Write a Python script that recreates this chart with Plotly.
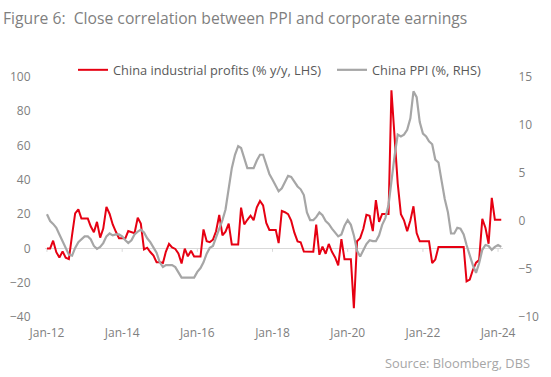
import pandas as pd
import plotly.graph_objects as go

# ---- data (monthly, Jan-2012 .. Feb-2024) ----
start_month = "2012-01-01"
n_months = 146

profits = [
    # 2012
    0.0, 0.0, 4.5, -2.2, -5.3, -1.7, -5.4, -6.2, 7.8, 20.5, 22.8, 17.4,
    # 2013
    17.4, 17.4, 12.9, 9.4, 15.5, 6.3, 11.6, 24.2, 20.1, 14.0, 9.7, 6.0,
    # 2014
    6.0, 6.0, 10.1, 9.6, 8.9, 17.9, 14.5, -0.6, 0.4, -2.1, -4.2, -8.0,
    # 2015
    -8.0, -8.5, -2.0, 2.6, 0.6, -0.3, -2.9, -8.8, -0.1, -4.6, -1.4, -4.7,
    # 2016
    -4.7, -4.7, 11.1, 4.2, 3.7, 5.1, 10.0, 19.5, 7.7, 9.8, 14.5, 2.3,
    # 2017
    2.3, 2.3, 23.8, 14.0, 16.7, 19.1, 16.5, 24.0, 27.7, 25.1, 14.9, 10.8,
    # 2018
    10.8, 10.8, 3.1, 21.9, 21.1, 20.0, 16.2, 9.2, 4.1, 3.6, -1.8, -1.9,
    # 2019
    -1.9, -1.9, 13.9, -3.7, 1.1, -3.1, 2.6, -2.0, -5.3, -9.9, 5.4, -6.3,
    # 2020
    -6.3, -6.3, -34.9, 4.2, 6.0, 11.5, 19.6, 19.1, 10.1, 28.2, 15.5, 20.1,
    # 2021
    20.1, 20.1, 92.3, 62.0, 38.0, 20.0, 16.4, 10.1, 16.3, 24.6, 9.0, 4.2,
    # 2022
    4.2, 4.2, 4.2, -8.5, -6.5, 0.8, 0.8, 0.8, 0.8, 0.8, 0.8, 0.8,
    # 2023
    0.8, 0.8, -19.2, -18.2, -12.6, -8.3, -6.7, 17.2, 11.9, 2.7, 29.5, 16.8,
    # 2024
    16.8, 16.8,
]

ppi = [
    # 2012
    0.7, 0.0, -0.3, -0.7, -1.4, -2.1, -2.9, -3.5, -3.6, -2.8, -2.2, -1.9,
    # 2013
    -1.6, -1.6, -1.9, -2.6, -2.9, -2.7, -2.3, -1.6, -1.3, -1.5, -1.4, -1.4,
    # 2014
    -1.6, -2.0, -2.3, -2.0, -1.4, -1.1, -0.9, -1.2, -1.8, -2.2, -2.7, -3.3,
    # 2015
    -4.3, -4.8, -4.6, -4.6, -4.6, -4.8, -5.4, -5.9, -5.9, -5.9, -5.9, -5.9,
    # 2016
    -5.3, -4.9, -4.3, -3.4, -2.8, -2.6, -1.7, -0.8, 0.1, 1.2, 3.3, 5.5,
    # 2017
    6.9, 7.8, 7.6, 6.4, 5.5, 5.5, 5.5, 6.3, 6.9, 6.9, 5.8, 4.9,
    # 2018
    4.3, 3.7, 3.1, 3.4, 4.1, 4.7, 4.6, 4.1, 3.6, 3.3, 2.7, 0.9,
    # 2019
    0.1, 0.1, 0.4, 0.9, 0.6, 0.0, -0.3, -0.8, -1.2, -1.6, -1.4, -0.5,
    # 2020
    0.1, -0.4, -1.5, -3.1, -3.7, -3.0, -2.4, -2.0, -2.1, -2.1, -1.5, -0.4,
    # 2021
    0.3, 1.7, 4.4, 6.8, 9.0, 8.8, 9.0, 9.5, 10.7, 13.5, 12.9, 10.3,
    # 2022
    9.1, 8.8, 8.3, 8.0, 6.4, 6.1, 4.2, 2.3, 0.9, -1.3, -1.3, -0.7,
    # 2023
    -0.8, -1.4, -2.5, -3.6, -4.6, -5.4, -4.4, -3.0, -2.5, -2.6, -3.0, -2.7,
    # 2024
    -2.5, -2.7,
]

tick_dates = ["2012-01-01", "2014-01-01", "2016-01-01", "2018-01-01",
              "2020-01-01", "2022-01-01", "2024-01-01"]
tick_labels = ["Jan-12", "Jan-14", "Jan-16", "Jan-18", "Jan-20", "Jan-22", "Jan-24"]
left_ticks = [-40, -20, 0, 20, 40, 60, 80, 100]
right_ticks = [-10, -5, 0, 5, 10, 15]

name_profits = "China industrial profits (% y/y, LHS)"
name_ppi = "China PPI (%, RHS)"
title_text = "Figure 6:  Close correlation between PPI and corporate earnings"
source_text = "Source: Bloomberg, DBS"

dates = pd.date_range(start_month, periods=n_months, freq="MS")

RED = "#e60012"
GREY = "#a6a6a6"
FONT = "Open Sans"
CLEAR = "rgba(0,0,0,0)"

PL, PR, PT, PB = 45, 48, 77, 60
PW, PH = 551 - PL - PR, 377 - PT - PB

fig = go.Figure()
fig.add_trace(go.Scatter(x=dates, y=profits, name=name_profits, mode="lines",
                         line=dict(color=RED, width=2), yaxis="y", legend="legend",
                         showlegend=True))
fig.add_trace(go.Scatter(x=dates, y=ppi, name=name_ppi, mode="lines",
                         line=dict(color=GREY, width=2.2), yaxis="y2", legend="legend2",
                         showlegend=True))

# small tick marks on the zero line
for d in tick_dates:
    fig.add_shape(type="line", xref="x", yref="y", x0=d, x1=d, y0=0, y1=-2,
                  line=dict(color="#d9d9d9", width=1), layer="below")

fig.update_layout(
    width=551, height=377,
    margin=dict(l=PL, r=PR, t=PT, b=PB, autoexpand=False),
    showlegend=True,
    paper_bgcolor="white", plot_bgcolor="white",
    font=dict(family=FONT, color="#808080", size=12),
    xaxis=dict(type="date", range=["2011-12-13", "2024-02-18"],
               tickvals=tick_dates, ticktext=tick_labels,
               showgrid=False, zeroline=False, showline=False,
               ticks="outside", ticklen=5, tickcolor=CLEAR,
               tickfont=dict(size=12, color="#808080")),
    yaxis=dict(range=[-40, 100], tickvals=left_ticks, showgrid=False,
               zeroline=True, zerolinecolor="#d9d9d9", zerolinewidth=1,
               showline=False, ticks="outside", ticklen=11, tickcolor=CLEAR,
               tickfont=dict(size=12, color="#808080")),
    yaxis2=dict(range=[-10, 15], tickvals=right_ticks, overlaying="y", side="right",
                showgrid=False, zeroline=False, showline=False,
                ticks="outside", ticklen=12, tickcolor=CLEAR,
                tickfont=dict(size=12, color="#808080")),
    legend=dict(x=(73 - PL) / PW, xanchor="left", y=1 + 7 / PH, yanchor="middle",
                orientation="h", bgcolor=CLEAR,
                font=dict(family=FONT, size=12.8, color="#595959")),
    legend2=dict(x=(332 - PL) / PW, xanchor="left", y=1 + 7 / PH, yanchor="middle",
                 orientation="h", bgcolor=CLEAR,
                 font=dict(family=FONT, size=12.8, color="#595959")),
    annotations=[
        dict(text=title_text, xref="paper", yref="paper",
             x=(1 - PL) / PW, xanchor="left", y=1 + (PT - 18) / PH, yanchor="middle",
             showarrow=False, font=dict(family=FONT, size=15.7, color="#7f7f7f")),
        dict(text=source_text, xref="paper", yref="paper",
             x=(532 - PL) / PW, xanchor="right", y=-46 / PH, yanchor="middle",
             showarrow=False, font=dict(family=FONT, size=12.8, color="#a6a6a6")),
    ],
)

fig.write_html("out.html", config={"displayModeBar": False},
               post_script="document.body.style.margin='0';")
